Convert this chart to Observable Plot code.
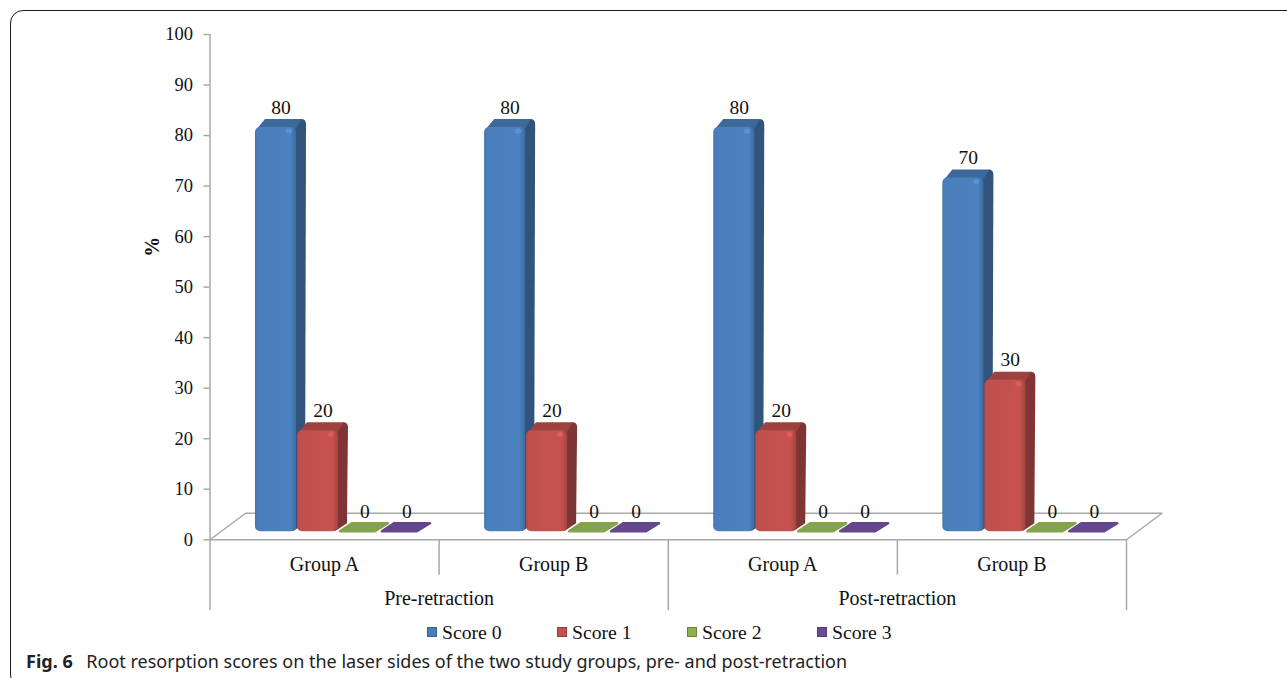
<!DOCTYPE html>
<html>
<head>
<meta charset="utf-8">
<script src="https://cdn.jsdelivr.net/npm/d3@7"></script>
<script src="https://cdn.jsdelivr.net/npm/@observablehq/plot@0.6"></script>
<style>
  html, body { margin: 0; padding: 0; background: #fff; width: 1287px; height: 678px; overflow: hidden; }
  #frame { position: absolute; left: 10px; top: 9.5px; width: 1300px; height: 678px; box-sizing: border-box;
           border: 1.8px solid #1a1a1a; border-radius: 13px; pointer-events: none; }
  #chart { position: absolute; left: 0; top: 0; }
  #chart svg { display: block; }
  #legend { position: absolute; top: 620px; left: 427px; display: flex; font: 19.7px "Liberation Serif", serif; color: #111; line-height: 24px; }
  #legend .item { width: 130px; display: flex; align-items: center; }
  #legend .swatch { width: 10px; height: 10px; margin-right: 5px; box-sizing: border-box; }
  #caption { position: absolute; left: 26px; top: 649px; font: 18px "Noto Sans", sans-serif; color: #222; white-space: nowrap; }
  #caption b { font-weight: 700; margin-right: 9px; }
</style>
</head>
<body>
<div id="chart"></div>
<div id="frame"></div>
<div id="legend"></div>
<div id="caption"></div>
<script>
const periods = ["Pre-retraction", "Post-retraction"];
const groups = ["Group A", "Group B", "Group A", "Group B"];
const scores = ["Score 0", "Score 1", "Score 2", "Score 3"];
const score0 = [80, 80, 80, 70];
const score1 = [20, 20, 20, 30];
const score2 = [0, 0, 0, 0];
const score3 = [0, 0, 0, 0];
const colors = ["#4a7ebb", "#c0504d", "#8fae52", "#6b4c96"];
const yTicks = [0, 10, 20, 30, 40, 50, 60, 70, 80, 90, 100];
const captionLabel = "Fig. 6";
const captionText = "Root resorption scores on the laser sides of the two study groups, pre- and post-retraction";

const series = [score0, score1, score2, score3];
const LEAD = 0.1985, STEP = 0.1832, BAR = 0.179;
const bars = series.flatMap((vals, s) => vals.map((v, g) => ({
  x1: g + LEAD + s * STEP,
  x2: g + LEAD + s * STEP + BAR,
  mid: g + LEAD + s * STEP + BAR / 2,
  value: v,
  score: scores[s]
})));

const NS = "http://www.w3.org/2000/svg";
function el(name, attrs) {
  const e = document.createElementNS(NS, name);
  for (const k in attrs) e.setAttribute(k, attrs[k]);
  return e;
}

let gradientCount = 0;
function bar3d(index, sc, values, dims, ctx, next) {
  const g = next(index, sc, values, dims, ctx);
  const defs = el("defs", {});
  g.appendChild(defs);
  [...g.querySelectorAll("rect")].forEach((r) => {
    const x = +r.getAttribute("x"), y = +r.getAttribute("y");
    const w = +r.getAttribute("width"), h = +(r.getAttribute("height") || 0);
    const fill = r.getAttribute("fill");
    const base = d3.color(fill);
    const parent = r.parentNode;
    if (h < 1) {
      const dx = 13, dy = -8, fw = w - 5;
      const flat = el("path", {
        d: `M${x + 1},${y} L${x + dx},${y + dy} L${x + fw + dx},${y + dy} L${x + fw},${y} Z`,
        fill: base.darker(0.2).formatHex(), stroke: base.darker(0.2).formatHex(), "stroke-width": 2.5, "stroke-linejoin": "round"
      });
      parent.replaceChild(flat, r);
      return;
    }
    const dx = 10, dy = -8;
    const side = el("path", {
      d: `M${x + w - 3},${y + h} L${x + w + dx - 1},${y + h + dy} L${x + w + dx},${y + dy + 5} Q${x + w + dx},${y + dy} ${x + w + dx - 5},${y + dy} L${x + w - 3},${y + 2} Z`,
      fill: base.darker(1.15).formatHex()
    });
    const top = el("path", {
      d: `M${x + 1},${y + 3} L${x + dx},${y + dy} L${x + w + dx - 4},${y + dy} L${x + w - 1},${y + 3} Z`,
      fill: base.darker(0.55).formatHex()
    });
    const id = "front" + (++gradientCount);
    const grad = el("linearGradient", { id, x1: 0, x2: 1, y1: 0, y2: 0 });
    [[0, base.darker(0.3)], [0.05, base], [0.86, base.brighter(0.08)], [1, base.darker(0.45)]].forEach(([o, c]) =>
      grad.appendChild(el("stop", { offset: o, "stop-color": c.formatHex() })));
    defs.appendChild(grad);
    parent.insertBefore(side, r);
    parent.insertBefore(top, r);
    r.setAttribute("fill", `url(#${id})`);
    r.setAttribute("rx", 5);
    const glint = el("rect", { x: x + w - 10, y: y + 1.5, width: 6, height: 5, rx: 2.5, fill: base.brighter(0.7).formatHex(), opacity: 0.55 });
    parent.insertBefore(glint, r.nextSibling);
  });
  return g;
}

const AXIS = "#a8a8a8", INK = "#111";
const SERIF = "Liberation Serif, serif";
const plot = Plot.plot({
  width: 1287,
  height: 616,
  marginLeft: 209.5,
  marginRight: 161,
  marginTop: 34,
  marginBottom: 6,
  style: { background: "transparent", fontFamily: SERIF, overflow: "visible" },
  x: { domain: [0, 4], range: [209.5, 1126], axis: null },
  y: { domain: [-14, 100], range: [610, 34], axis: null },
  color: { domain: scores, range: colors },
  marks: [
    Plot.line([[0, 0], [0.155, 5.25], [4.155, 5.25], [4, 0], [0, 0]], { x: "0", y: "1", stroke: AXIS, strokeWidth: 1.5 }),
    Plot.ruleX([0, 2, 4], { y1: -14, y2: 0, stroke: AXIS, strokeWidth: 1.5 }),
    Plot.ruleX([1, 3], { y1: -7, y2: 0, stroke: AXIS, strokeWidth: 1.5 }),
    Plot.ruleX([0], { y1: 0, y2: 100, stroke: AXIS, strokeWidth: 1.5 }),
    Plot.axisY(yTicks, { anchor: "left", tickSize: 6, tickPadding: 11, stroke: AXIS, fill: INK, fontSize: 18.5, strokeWidth: 1.5, label: null, tickFormat: d => String(d) }),
    Plot.text(["%"], { x: -0.25, y: 58, text: d => d, rotate: -90, fontWeight: "bold", fontSize: 20, fill: INK }),
    Plot.rectY(bars, { x1: "x1", x2: "x2", y1: 0, y2: "value", fill: "score", dy: -8, render: bar3d }),
    Plot.text(bars, { x: "mid", y: "value", text: d => String(d.value), dx: 5, dy: -28, fontSize: 19.5, fill: INK }),
    Plot.text(groups, { x: (d, i) => i + 0.5, y: -4.9, text: d => d, fontSize: 20, fill: INK }),
    Plot.text(periods, { x: (d, i) => i * 2 + 1, y: -11.6, text: d => d, fontSize: 20, fill: INK })
  ]
});
document.getElementById("chart").appendChild(plot);

const legend = document.getElementById("legend");
scores.forEach((s, i) => {
  const item = document.createElement("div");
  item.className = "item";
  const sw = document.createElement("span");
  sw.className = "swatch";
  sw.style.background = colors[i];
  sw.style.border = "1px solid " + d3.color(colors[i]).darker(0.8).formatHex();
  const t = document.createElement("span");
  t.textContent = s;
  item.append(sw, t);
  legend.appendChild(item);
});
const cap = document.getElementById("caption");
const b = document.createElement("b");
b.textContent = captionLabel;
cap.append(b, " " + captionText);
</script>
</body>
</html>
